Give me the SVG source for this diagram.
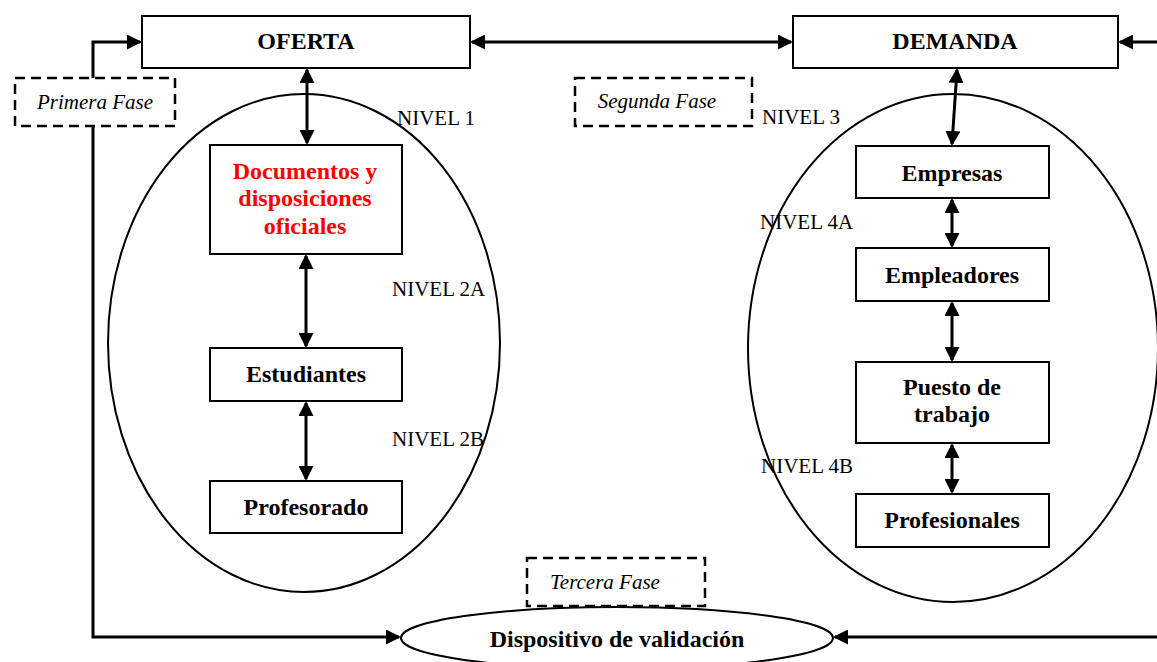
<svg xmlns="http://www.w3.org/2000/svg" width="1157" height="662" viewBox="0 0 1157 662">
<style>
.box{fill:#fff;stroke:#000;stroke-width:2}
.dash{fill:#fff;stroke:#000;stroke-width:2.5;stroke-dasharray:10 6}
.oval{fill:none;stroke:#000;stroke-width:2}
.b{font-family:"Liberation Serif","Times New Roman",serif;font-weight:bold;font-size:24px;text-anchor:middle;fill:#000}
.red{fill:#ff0000}
.i{font-family:"Liberation Serif","Times New Roman",serif;font-style:italic;font-size:21px;text-anchor:middle;fill:#000}
.n{font-family:"Liberation Serif","Times New Roman",serif;font-size:21px;fill:#000}
.c{fill:none;stroke:#000;stroke-width:3}
.a{marker-end:url(#ah)}
.d{marker-start:url(#ah);marker-end:url(#ah)}
</style>
<defs>
<marker id="ah" viewBox="0 0 15 15" refX="13" refY="7.5" markerWidth="15" markerHeight="15" markerUnits="userSpaceOnUse" orient="auto-start-reverse">
<path d="M0,0 L15,7.5 L0,15 z" fill="#000"/>
</marker>
</defs>
<rect width="1157" height="662" fill="#fff"/>

<g id="ellipse-oferta"><ellipse class="oval" cx="304" cy="343" rx="196" ry="249"/></g>
<g id="ellipse-demanda"><ellipse class="oval" cx="953" cy="348" rx="205" ry="254"/></g>

<g id="labels">
<text class="n" x="397" y="125">NIVEL 1</text>
<text class="n" x="392" y="296">NIVEL 2A</text>
<text class="n" x="392" y="446">NIVEL 2B</text>
<text class="n" x="762" y="124">NIVEL 3</text>
<text class="n" x="760" y="229">NIVEL 4A</text>
<text class="n" x="761" y="473">NIVEL 4B</text>
</g>

<g id="connectors">
<path class="c a" d="M93,78 V42 H140"/>
<path class="c a" d="M93,126 V637 H399"/>
<line class="c d" x1="472" y1="42" x2="791" y2="42"/>
<path class="c a" d="M1157,42 H1120"/>
<path class="c a" d="M1157,637 H835"/>
<line class="c d" x1="307" y1="70" x2="307" y2="143"/>
<line class="c d" x1="306" y1="256" x2="306" y2="346"/>
<line class="c d" x1="306" y1="403" x2="306" y2="479"/>
<line class="c d" x1="957" y1="70" x2="952" y2="144"/>
<line class="c d" x1="952" y1="200" x2="952" y2="246"/>
<line class="c d" x1="952" y1="303" x2="952" y2="360"/>
<line class="c d" x1="952" y1="445" x2="952" y2="492"/>
</g>

<g id="oferta"><rect class="box" x="142" y="16" width="328" height="52"/><text class="b" x="306" y="49">OFERTA</text></g>
<g id="demanda"><rect class="box" x="793" y="16" width="325" height="52"/><text class="b" x="955" y="49">DEMANDA</text></g>

<g id="primera-fase"><rect class="dash" x="15" y="78" width="160" height="48"/><text class="i" x="95" y="109">Primera Fase</text></g>
<g id="segunda-fase"><rect class="dash" x="575" y="78" width="177" height="48"/><text class="i" x="657" y="108">Segunda Fase</text></g>
<g id="tercera-fase"><rect class="dash" x="527" y="558" width="178" height="48"/><text class="i" x="605" y="589">Tercera Fase</text></g>

<g id="documentos"><rect class="box" x="210" y="145" width="192" height="109"/>
<text class="b red" x="305" y="179">Documentos y</text>
<text class="b red" x="305" y="206">disposiciones</text>
<text class="b red" x="305" y="234">oficiales</text></g>
<g id="estudiantes"><rect class="box" x="210" y="348" width="192" height="53"/><text class="b" x="306" y="382">Estudiantes</text></g>
<g id="profesorado"><rect class="box" x="210" y="481" width="192" height="52"/><text class="b" x="306" y="515">Profesorado</text></g>

<g id="empresas"><rect class="box" x="856" y="146" width="193" height="52"/><text class="b" x="952" y="181">Empresas</text></g>
<g id="empleadores"><rect class="box" x="856" y="248" width="193" height="53"/><text class="b" x="952" y="283">Empleadores</text></g>
<g id="puesto"><rect class="box" x="856" y="362" width="193" height="81"/>
<text class="b" x="952" y="395">Puesto de</text>
<text class="b" x="952" y="422">trabajo</text></g>
<g id="profesionales"><rect class="box" x="856" y="494" width="193" height="53"/><text class="b" x="952" y="528">Profesionales</text></g>

<g id="dispositivo"><ellipse cx="617" cy="638" rx="216" ry="31" fill="#fff" stroke="#000" stroke-width="2"/><text class="b" x="617" y="647">Dispositivo de validación</text></g>
</svg>
